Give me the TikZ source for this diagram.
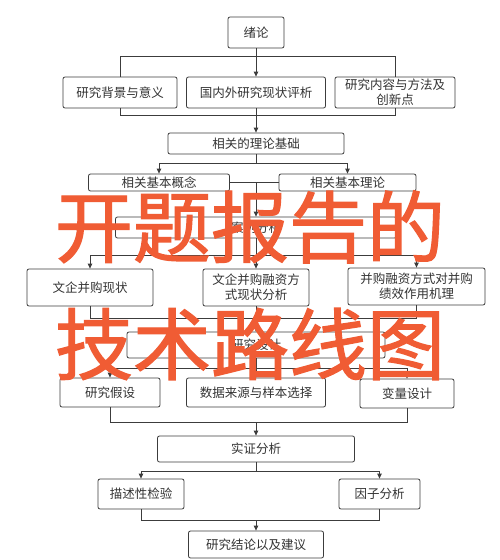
\documentclass[tikz,border=0pt]{standalone}
\usepackage{fontspec}
\newfontfamily\cjk{Noto Sans CJK SC}
\newfontfamily\cjkstamp{Noto Sans CJK SC}[FakeBold=1.5]
\usetikzlibrary{arrows.meta}
\definecolor{linegray}{RGB}{60,60,60}
\definecolor{stamp}{RGB}{240,92,52}
\tikzset{
  box/.style={draw=linegray, line width=0.8pt, rounded corners=2pt, inner sep=1pt,
    align=center, text=black!80, font=\cjk\fontsize{12.5}{15}\selectfont},
  link/.style={draw=linegray, line width=0.8pt},
  arr/.style={link, -{Triangle[length=5pt,width=4.5pt]}},
  stampnode/.style={inner sep=0pt, text=stamp, font=\cjkstamp\fontsize{78}{78}\selectfont}
}
\begin{document}
\begin{tikzpicture}[x=1pt, y=-1pt]
        \useasboundingbox[fill=white] (0,0) rectangle (500,560);

        % Introduction
        \node[box, minimum width=56pt, minimum height=31pt] (xulun) at (256,32.5) {绪论};
        \node[box, minimum width=114pt, minimum height=31pt] (beijing) at (120,92.5) {研究背景与意义};
        \node[box, minimum width=139pt, minimum height=31pt] (xianzhuang) at (256,92.5) {国内外研究现状评析};
        \node[box, minimum width=120pt, minimum height=31pt] (neirong) at (395,92.5) {研究内容与方法及\\创新点};

        % Theory
        \node[box, minimum width=176pt, minimum height=21pt] (jichu) at (256,143.5) {相关的理论基础};
        \node[box, minimum width=141pt, minimum height=17pt] (gainian) at (159,182.5) {相关基本概念};
        \node[box, minimum width=137pt, minimum height=17pt] (lilun) at (347.5,182.5) {相关基本理论};

        % Case study
        \node[box, minimum width=281pt, minimum height=21pt] (anli) at (256,227.5) {案例分析};
        \node[box, minimum width=126pt, minimum height=37pt] (binggou) at (90,287.5) {文企并购现状};
        \node[box, minimum width=106pt, minimum height=37pt] (rongzi) at (256,287.5) {文企并购融资方\\式现状分析};
        \node[box, minimum width=137pt, minimum height=37pt] (jili) at (416.5,286.5) {并购融资方式对并购\\绩效作用机理};

        % Design
        \node[box, minimum width=258pt, minimum height=26pt] (sheji) at (256,345) {研究设计};
        \node[box, minimum width=100pt, minimum height=29pt] (jiashe) at (110,392.5) {研究假设};
        \node[box, minimum width=139pt, minimum height=29pt] (shuju) at (256,392.5) {数据来源与样本选择};
        \node[box, minimum width=94pt, minimum height=29pt] (bianliang) at (407,393.5) {变量设计};

        % Empirical part
        \node[box, minimum width=197pt, minimum height=26pt] (shizheng) at (256,449) {实证分析};
        \node[box, minimum width=86pt, minimum height=30pt] (miaoshu) at (141,494) {描述性检验};
        \node[box, minimum width=81pt, minimum height=30pt] (yinzi) at (379.5,494) {因子分析};
        \node[box, minimum width=135pt, minimum height=27pt] (jielun) at (256,544.5) {研究结论以及建议};

        % Connectors
        \draw[arr] (xulun) -- (xianzhuang);
        \draw[link] (beijing.north) -- ++(0,-20) -| (neirong.north);
        \draw[link] (beijing.south) -- ++(0,7) -| (neirong.south);
        \draw[arr] (xianzhuang) -- (jichu);

        \draw[link] (jichu.south) -- ++(0,9) coordinate (fork1);
        \draw[arr] (fork1) -| (gainian.north);
        \draw[arr] (fork1) -| (lilun.north);
        \draw[link] (gainian) -- (lilun);
        \draw[arr] (anli.north |- gainian.east) -- (anli);

        \draw[link] (anli.south) -- ++(0,17) coordinate (fork2);
        \draw[arr] (fork2) -| (binggou.north);
        \draw[arr] (fork2) -- (rongzi);
        \draw[arr] (fork2) -| (jili.north);
        \draw[link] (binggou.south) -- ++(0,12) -| (jili.south);
        \draw[arr] (rongzi) -- (sheji);

        \draw[link] (sheji.south) -- ++(0,10) coordinate (fork3);
        \draw[arr] (fork3) -| (jiashe.north);
        \draw[arr] (fork3) -- (shuju);
        \draw[arr] (fork3) -| (bianliang.north);
        \draw[link] (jiashe.south) -- ++(0,15) coordinate (join2) -| (bianliang.south);
        \draw[arr] (join2 -| shizheng.north) -- (shizheng);

        \draw[link] (shizheng.south) -- ++(0,9) coordinate (fork4);
        \draw[arr] (fork4) -| (miaoshu.north);
        \draw[arr] (fork4) -| (yinzi.north);
        \draw[link] (miaoshu.south) -- ++(0,11) coordinate (join3) -| (yinzi.south);
        \draw[arr] (join3 -| jielun.north) -- (jielun);

        % Title stamped over the chart
        \node[stampnode] (title1) at (250,227) {开题报告的};
        \node[stampnode] (title2) at (250,344) {技术路线图};
    \end{tikzpicture}
\end{document}
